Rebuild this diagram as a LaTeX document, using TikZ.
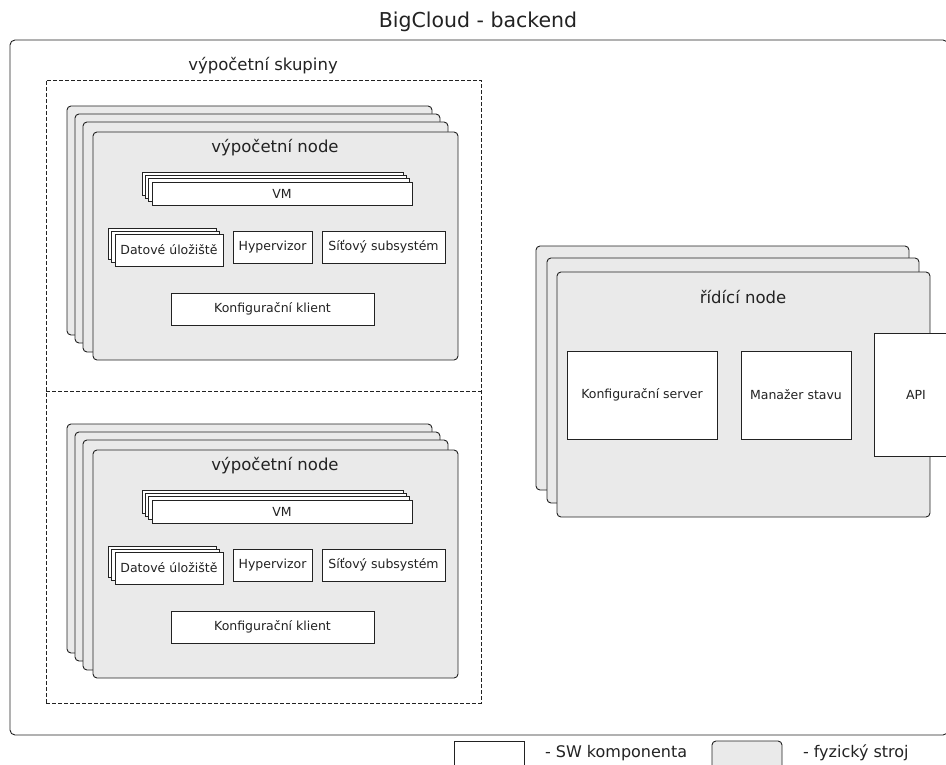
\documentclass[tikz,border=0pt]{standalone}
\usepackage{fontspec}
\setmainfont{DejaVu Sans}
\definecolor{cardfill}{HTML}{EAEAEA}
\definecolor{linecol}{HTML}{222222}
\begin{document}
\begin{tikzpicture}[x=1pt,y=-1pt,
  every node/.style={inner sep=0pt, outer sep=0pt, text=linecol},
  card/.style={draw=linecol, line width=0.9pt, fill=cardfill, rounded corners=4pt, anchor=north west},
  swbox/.style={draw=linecol, line width=0.9pt, fill=white, anchor=north west},
  grp/.style={draw=linecol, line width=0.8pt, dash pattern=on 4pt off 2pt},
  ttl/.style={font=\fontsize{16.5}{19}\selectfont},
  legt/.style={font=\fontsize{16}{19}\selectfont},
  lbl/.style={font=\fontsize{12.5}{15}\selectfont},
]
\useasboundingbox (0,0) rectangle (946,765);
\clip (0,0) rectangle (946,765);

\node[font=\fontsize{20.5}{24}\selectfont] (title) at (478,22) {BigCloud - backend};
\node[draw=linecol, line width=0.9pt, rounded corners=5pt, anchor=north west, minimum width=938pt, minimum height=695pt] (outer) at (10,40) {};

% compute group
\node[ttl] (grplabel) at (263,66) {výpočetní skupiny};
\node[grp, anchor=north west, minimum width=435pt, minimum height=623pt] (group) at (46,80) {};
\coordinate (divl) at (46,391);
\coordinate (divr) at (481,391);
\draw[grp] (divl) -- (divr);

\newcommand{\computestack}[2]{%
\begin{scope}[shift={(0,#2)}]
\node[card, minimum width=365pt, minimum height=229pt] (#1c1) at (67,106) {};
\node[card, minimum width=365pt, minimum height=229pt] (#1c2) at (75,114) {};
\node[card, minimum width=365pt, minimum height=230pt] (#1c3) at (83,122) {};
\node[card, minimum width=365pt, minimum height=228pt] (#1c4) at (93,132) {};
\node[ttl] (#1title) at (275,148) {výpočetní node};
\node[swbox, minimum width=261pt, minimum height=23pt] (#1vm1) at (142,172) {};
\node[swbox, minimum width=261pt, minimum height=23pt] (#1vm2) at (145,175.5) {};
\node[swbox, minimum width=261pt, minimum height=23pt] (#1vm3) at (148,178.5) {};
\node[swbox, minimum width=260pt, minimum height=23pt, lbl] (#1vm) at (152,182) {VM};
\node[swbox, minimum width=108pt, minimum height=31pt] (#1ds1) at (108,228) {};
\node[swbox, minimum width=108pt, minimum height=31pt] (#1ds2) at (111,231) {};
\node[swbox, minimum width=108pt, minimum height=32pt, lbl] (#1ds) at (115,234) {Datové úložiště};
\node[swbox, minimum width=79pt, minimum height=32pt, lbl] (#1hv) at (233,231) {Hypervizor};
\node[swbox, minimum width=123pt, minimum height=32pt, lbl] (#1net) at (322,231) {Síťový subsystém};
\node[swbox, minimum width=203pt, minimum height=32pt, lbl] (#1kk) at (171,293) {Konfigurační klient};
\end{scope}}

\computestack{a}{0}
\computestack{b}{318}

% control nodes
\node[card, minimum width=373pt, minimum height=244pt] (r1) at (536,246) {};
\node[card, minimum width=372pt, minimum height=245pt] (r2) at (547,258) {};
\node[card, minimum width=373pt, minimum height=245pt] (r3) at (557,272) {};
\node[ttl] (rtitle) at (743,297) {řídící node};
\node[swbox, minimum width=150pt, minimum height=88pt, lbl] (ks) at (567,351) {Konfigurační server};
\node[swbox, minimum width=110pt, minimum height=88pt, lbl] (ms) at (741,351) {Manažer stavu};
\node[swbox, minimum width=84pt, minimum height=123pt, lbl] (api) at (874,333) {API};

% legend
\node[swbox, minimum width=70pt, minimum height=30pt] (legsw) at (454,741) {};
\node[legt, anchor=west] (legswt) at (545,753) {- SW komponenta};
\node[card, minimum width=70pt, minimum height=30pt] (legpm) at (712,741) {};
\node[legt, anchor=west] (legpmt) at (803,753) {- fyzický stroj};
\end{tikzpicture}
\end{document}
